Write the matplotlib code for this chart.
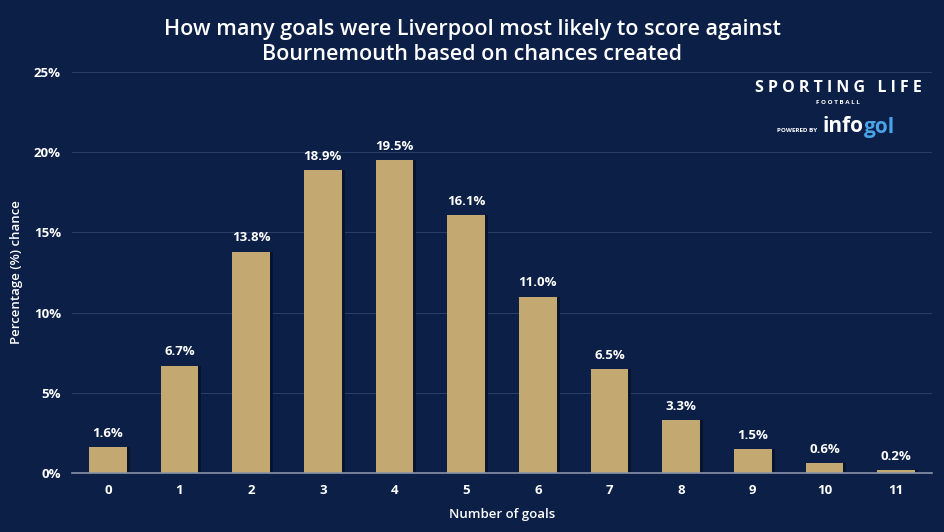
import matplotlib
matplotlib.use("Agg")
import matplotlib.pyplot as plt
import numpy as np

goals = ["0", "1", "2", "3", "4", "5", "6", "7", "8", "9", "10", "11"]
chance = [1.6, 6.7, 13.8, 18.9, 19.5, 16.1, 11.0, 6.5, 3.3, 1.5, 0.6, 0.2]
yticks = [0, 5, 10, 15, 20, 25]

BG = "#0c1f47"
BAR = "#c3a872"
plt.rcParams['font.family'] = ['Open Sans', 'DejaVu Sans']

fig = plt.figure(figsize=(9.45, 5.32), dpi=100, facecolor=BG)
ax = fig.add_axes([72/945, 1-473/532, 860/945, 401/532])
ax.set_facecolor(BG)
x = np.arange(len(goals))
w = 0.53
ax.bar(x + 0.04, chance, width=w, color="#07142f", zorder=2)
ax.bar(x, chance, width=w, color=BAR, zorder=3)
for xi, v in zip(x, chance):
    ax.text(xi, v + 0.45, f"{v:.1f}%", ha="center", va="bottom", color="white",
            fontsize=9.5, fontweight="bold", zorder=4)
ax.set_xlim(-0.5, 11.5)
ax.set_ylim(0, 25)
ax.set_xticks(x)
ax.set_xticklabels(goals)
ax.set_yticks(yticks)
ax.set_yticklabels([f"{t}%" for t in yticks])
ax.tick_params(colors="white", labelsize=9.5, length=0, pad=8)
for lbl in ax.get_xticklabels() + ax.get_yticklabels():
    lbl.set_fontweight("bold")
ax.grid(axis="y", color="#2a3c63", linewidth=0.8, zorder=0)
for s in ["top", "right", "left"]:
    ax.spines[s].set_visible(False)
ax.spines["bottom"].set_color("#8a93a8")
ax.spines["bottom"].set_linewidth(1.2)
ax.spines["bottom"].set_zorder(5)
ax.set_xlabel("Number of goals", color="white", fontsize=9.5, labelpad=8, fontweight="semibold")
ax.set_ylabel("Percentage (%) chance", color="white", fontsize=9.5, labelpad=8, fontweight="semibold")

fig.text(0.5, 0.965, "How many goals were Liverpool most likely to score against\nBournemouth based on chances created",
         ha="center", va="top", color="white", fontsize=15.5, fontweight="semibold", linespacing=1.3)

fig.text(838/945, 1-88/532, "S P O R T I N G   L I F E", ha="center", va="center", color="white",
         fontsize=11.5, fontweight="bold")
fig.text(838/945, 1-103/532, "F O O T B A L L", ha="center", va="center", color="white",
         fontsize=4.5, fontweight="bold")
fig.text(797/945, 1-130/532, "POWERED BY", ha="center", va="center", color="white",
         fontsize=4.5, fontweight="bold")
fig.text(864/945, 1-127/532, "info", ha="right", va="center", color="white",
         fontsize=15, fontweight="bold")
fig.text(864/945, 1-127/532, "gol", ha="left", va="center", color="#4aa3e8",
         fontsize=15, fontweight="bold")

fig.savefig("out.png", dpi=100, facecolor=BG)
